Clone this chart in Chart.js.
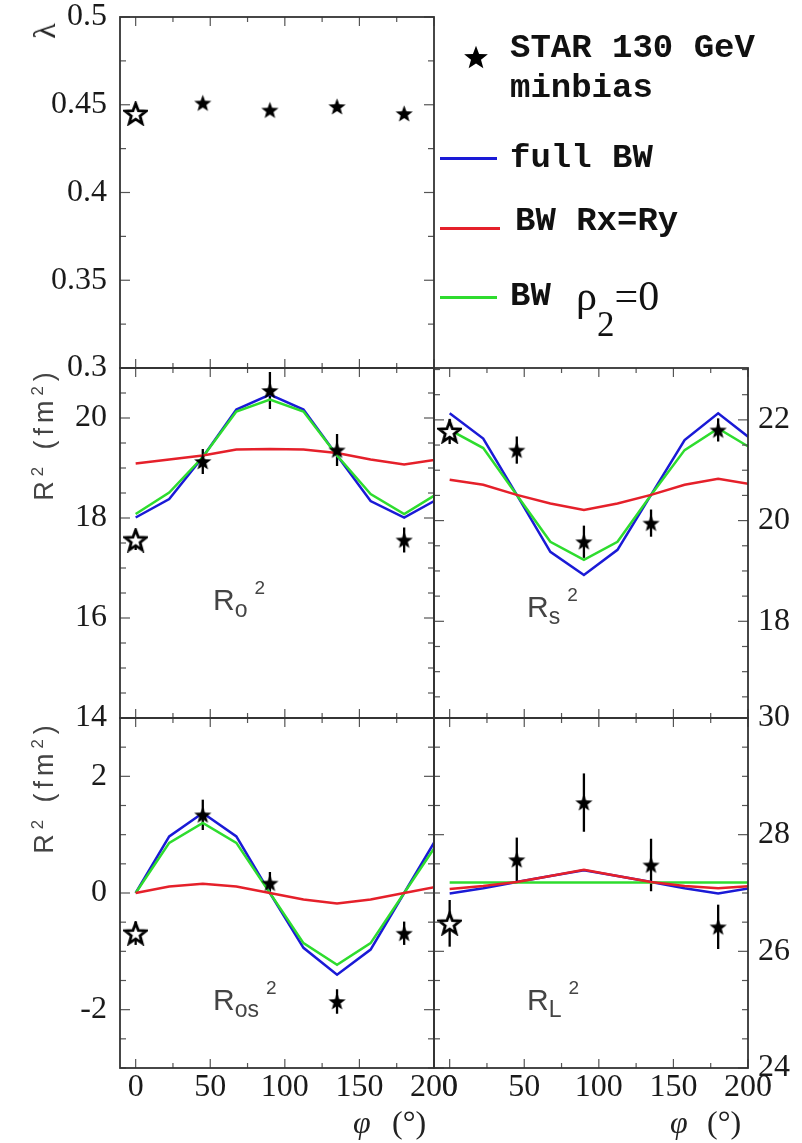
<!DOCTYPE html>
<html>
<head>
<meta charset="utf-8">
<script src="https://cdn.jsdelivr.net/npm/chart.js@4.4.1/dist/chart.umd.min.js"></script>
<style>
  html, body { margin: 0; padding: 0; background: #fff; }
  #page { position: relative; width: 802px; height: 1143px; overflow: hidden; background: #fff; }
  #page canvas.panel { position: absolute; left: 0; top: 0; }
  .lbl { position: absolute; white-space: nowrap; line-height: 1; color: #222; }
  .rot { transform: translate(-50%, -50%) rotate(-90deg); }
  .sans { font-family: "Liberation Sans", Arial, sans-serif; }
  .serif { font-family: "Liberation Serif", "Times New Roman", serif; }
  .mono { font-family: "Liberation Mono", "Courier New", monospace; font-weight: bold; font-size: 34px; color: #111; }
  .axt { font-size: 27px; letter-spacing: 5px; color: #444; }
  .axt sup { font-size: 62%; position: relative; top: -0.6em; vertical-align: 0; }
  .plab { font-family: "Liberation Sans", Arial, sans-serif; font-size: 30px; color: #444; }
  .plab .sb { font-size: 23px; position: relative; top: 7px; }
  .plab .sp { font-size: 19px; position: relative; top: -16px; margin-left: 7px; }
  .swatch { position: absolute; height: 3px; }
</style>
</head>
<body>
<div id="page">
  <canvas class="panel" id="panelLambda" width="802" height="1143"></canvas>
  <canvas class="panel" id="panelRo" width="802" height="1143"></canvas>
  <canvas class="panel" id="panelRs" width="802" height="1143"></canvas>
  <canvas class="panel" id="panelRos" width="802" height="1143"></canvas>
  <canvas class="panel" id="panelRl" width="802" height="1143"></canvas>

  <!-- axis titles -->
  <div class="lbl rot serif" style="left:44px;top:31px;font-size:32px;">λ</div>
  <div class="lbl rot sans axt" style="left:44px;top:434px;">R<sup>2</sup> (fm<sup>2</sup>)</div>
  <div class="lbl rot sans axt" style="left:44px;top:787px;">R<sup>2</sup> (fm<sup>2</sup>)</div>

  <div class="lbl serif" style="left:353px;top:1106px;font-size:32px;font-style:italic;">φ</div>
  <div class="lbl serif" style="left:392px;top:1106px;font-size:32px;">(°)</div>
  <div class="lbl serif" style="left:670px;top:1106px;font-size:32px;font-style:italic;">φ</div>
  <div class="lbl serif" style="left:707px;top:1106px;font-size:32px;">(°)</div>

  <!-- panel labels -->
  <div class="lbl plab" style="left:213px;top:585px;">R<span class="sb">o</span><span class="sp">2</span></div>
  <div class="lbl plab" style="left:527px;top:592px;">R<span class="sb">s</span><span class="sp">2</span></div>
  <div class="lbl plab" style="left:213px;top:985px;">R<span class="sb">os</span><span class="sp">2</span></div>
  <div class="lbl plab" style="left:527px;top:985px;">R<span class="sb">L</span><span class="sp">2</span></div>

  <!-- legend -->
  <canvas id="legendStar" width="30" height="26" style="position:absolute;left:461px;top:44px;"></canvas>
  <div class="lbl mono" style="left:510px;top:31px;">STAR 130 GeV</div>
  <div class="lbl mono" style="left:510px;top:71px;">minbias</div>
  <div class="swatch" style="left:440px;top:157px;width:57px;background:#1a1ad6;"></div>
  <div class="lbl mono" style="left:510px;top:141px;">full BW</div>
  <div class="swatch" style="left:440px;top:227px;width:60px;background:#e5202a;"></div>
  <div class="lbl mono" style="left:515px;top:204px;">BW Rx=Ry</div>
  <div class="swatch" style="left:440px;top:296px;width:57px;background:#2edc2e;"></div>
  <div class="lbl mono" style="left:510px;top:279px;">BW</div>
  <div class="lbl serif" style="left:576px;top:275px;font-size:42px;color:#111;">ρ<span style="position:relative;top:26px;font-size:35px;">2</span>=0</div>
</div>

<script>
// angle of the measured points and of the model curves (degrees)
const phiData = [0, 45, 90, 135, 180];
const phiModel = [0, 22.5, 45, 67.5, 90, 112.5, 135, 157.5, 180, 202.5];
const phiTicks = [0, 50, 100, 150, 200];

// lambda panel
const lambdaTicks = [0.3, 0.35, 0.4, 0.45, 0.5];
const lambdaStar = [0.445, 0.451, 0.447, 0.449, 0.445];

// Ro^2
const roTicks = [14, 16, 18, 20];
const roStar = [17.56, 19.13, 20.55, 19.36, 17.56];
const roErr = [0.2, 0.25, 0.37, 0.32, 0.25];
const roFull = [18.01, 18.38, 19.22, 20.17, 20.47, 20.17, 19.25, 18.34, 18.01, 18.38];
const roRxRy = [19.09, 19.17, 19.25, 19.37, 19.38, 19.37, 19.3, 19.17, 19.07, 19.17];
const roRho0 = [18.08, 18.51, 19.22, 20.13, 20.37, 20.13, 19.25, 18.48, 18.08, 18.49];

// Rs^2
const rsTicks = [18, 20, 22];
const rsStar = [21.77, 21.4, 19.58, 19.95, 21.8];
const rsErr = [0.25, 0.27, 0.32, 0.27, 0.23];
const rsFull = [22.13, 21.63, 20.51, 19.38, 18.92, 19.42, 20.51, 21.6, 22.13, 21.61];
const rsRxRy = [20.81, 20.71, 20.51, 20.34, 20.21, 20.34, 20.51, 20.71, 20.83, 20.72];
const rsRho0 = [21.8, 21.44, 20.51, 19.58, 19.22, 19.58, 20.51, 21.4, 21.83, 21.43];

// Ros^2
const rosTicks = [-2, 0, 2];
const rosStar = [-0.69, 1.34, 0.17, -1.86, -0.69];
const rosErr = [0.2, 0.26, 0.19, 0.21, 0.2];
const rosFull = [0, 0.97, 1.37, 0.97, 0, -0.94, -1.4, -0.97, 0, 0.97];
const rosRxRy = [0, 0.11, 0.16, 0.11, 0, -0.11, -0.18, -0.11, 0, 0.11];
const rosRho0 = [0, 0.86, 1.2, 0.86, 0, -0.86, -1.23, -0.86, 0, 0.86];

// RL^2
const rlTicks = [24, 26, 28, 30];
const rlStar = [26.48, 27.57, 28.55, 27.48, 26.42];
const rlErr = [0.4, 0.38, 0.5, 0.45, 0.38];
const rlFull = [26.99, 27.08, 27.19, 27.29, 27.39, 27.29, 27.19, 27.08, 26.99, 27.09];
const rlRxRy = [27.07, 27.12, 27.19, 27.29, 27.4, 27.29, 27.19, 27.12, 27.08, 27.12];
const rlRho0 = [27.18, 27.18, 27.18, 27.18, 27.18, 27.18, 27.18, 27.18, 27.18, 27.18];

const BLUE = "#1a1ad6", RED = "#e5202a", GREEN = "#2edc2e";
const TICK_FONT = { family: '"Liberation Serif", "Times New Roman", serif', size: 32 };

function starImage(size, hollow) {
    const c = document.createElement("canvas");
    c.width = size; c.height = size;
    const g = c.getContext("2d");
    const R = size / 2 - 1.5, r = R * 0.42;
    const cx = size / 2, cy = size / 2 + R * 0.09;
    g.beginPath();
    for (let i = 0; i < 10; i++) {
        const rad = i % 2 ? r : R;
        const a = -Math.PI / 2 + i * Math.PI / 5;
        g.lineTo(cx + rad * Math.cos(a), cy + rad * Math.sin(a));
    }
    g.closePath();
    if (hollow) {
        g.fillStyle = "#fff"; g.fill();
        g.lineWidth = 2.8; g.strokeStyle = "#000"; g.stroke();
    } else {
        g.fillStyle = "#000"; g.fill();
    }
    return c;
}

const fullStar = starImage(21, false);
const openStar = starImage(25, true);

// legend star
(function () {
    const g = document.getElementById("legendStar").getContext("2d");
    g.drawImage(starImage(28, false), 1, -1);
})();

function pairs(xs, ys) {
    return xs.map((x, i) => ({ x: x, y: ys[i] }));
}

const errorBars = {
    id: "errorBars",
    beforeDatasetsDraw(chart) {
        const ds = chart.data.datasets[0];
        if (!ds.errors) return;
        const xs = chart.scales.x, ys = chart.scales.y, ctx = chart.ctx;
        ctx.save();
        ctx.strokeStyle = "#000";
        ctx.lineWidth = 2.3;
        ds.data.forEach((p, i) => {
            const px = xs.getPixelForValue(p.x);
            ctx.beginPath();
            ctx.moveTo(px, ys.getPixelForValue(p.y - ds.errors[i]));
            ctx.lineTo(px, ys.getPixelForValue(p.y + ds.errors[i]));
            ctx.stroke();
        });
        ctx.restore();
    }
};

const framePlugin = {
    id: "frame",
    afterDraw(chart, args, opts) {
        const a = chart.chartArea, ctx = chart.ctx;
        const xs = chart.scales.x, ys = chart.scales.y;
        ctx.save();
        ctx.strokeStyle = "#555";
        ctx.lineWidth = 1.2;
        const seg = (x1, y1, x2, y2) => { ctx.beginPath(); ctx.moveTo(x1, y1); ctx.lineTo(x2, y2); ctx.stroke(); };
        for (let v = 0; v <= 200; v += 25) {
            const px = xs.getPixelForValue(v);
            const len = v % 50 === 0 ? 9 : 5;
            seg(px, a.bottom, px, a.bottom - len);
            seg(px, a.top, px, a.top + len);
        }
        const n = Math.round((ys.max - ys.min) / opts.minor) + 2;
        const start = Math.ceil(ys.min / opts.minor - 1e-6) * opts.minor;
        for (let k = 0; k < n; k++) {
            const v = start + k * opts.minor;
            if (v > ys.max + 1e-9) break;
            const py = ys.getPixelForValue(v);
            const isMajor = Math.abs(v / opts.major - Math.round(v / opts.major)) < 1e-6;
            const len = isMajor ? 10 : 6;
            seg(a.left, py, a.left + len, py);
            seg(a.right, py, a.right - len, py);
        }
        ctx.strokeStyle = "#333";
        ctx.lineWidth = 1.8;
        ctx.strokeRect(a.left, a.top, a.right - a.left, a.bottom - a.top);
        ctx.restore();
    }
};

function makePanel(id, cfg) {
    const datasets = [{
        data: pairs(phiData, cfg.star),
        errors: cfg.err,
        pointStyle: phiData.map((p, i) => i === 0 ? openStar : fullStar),
        pointRadius: 10,
        showLine: false,
        order: 0
    }];
    if (cfg.full) {
        datasets.push(
            { data: pairs(phiModel, cfg.rxry), borderColor: RED, borderWidth: 2.5, showLine: true, pointRadius: 0, clip: 0, order: 1 },
            { data: pairs(phiModel, cfg.rho0), borderColor: GREEN, borderWidth: 2.5, showLine: true, pointRadius: 0, clip: 0, order: 2 },
            { data: pairs(phiModel, cfg.full), borderColor: BLUE, borderWidth: 2.5, showLine: true, pointRadius: 0, clip: 0, order: 3 }
        );
    }
    const b = cfg.box;
    const yWidth = cfg.side === "left" ? 110 : 54;
    const xHeight = cfg.showX ? 1143 - b.bottom : 0;
    const padding = {
        top: b.top,
        left: cfg.side === "left" ? b.left - yWidth : b.left,
        right: cfg.side === "left" ? 802 - b.right : 802 - b.right - yWidth,
        bottom: cfg.showX ? 0 : 1143 - b.bottom
    };
    new Chart(document.getElementById(id), {
        type: "scatter",
        data: { datasets: datasets },
        options: {
            responsive: false,
            animation: false,
            layout: { padding: padding },
            plugins: { legend: { display: false }, tooltip: { enabled: false }, frame: { major: cfg.major, minor: cfg.minor } },
            scales: {
                x: {
                    type: "linear",
                    min: -10.5, max: 200,
                    display: cfg.showX,
                    grid: { display: false, drawTicks: false },
                    border: { display: false },
                    afterBuildTicks: s => { s.ticks = phiTicks.map(v => ({ value: v })); },
                    afterFit: s => { s.height = xHeight; s.paddingLeft = 0; s.paddingRight = 0; },
                    ticks: { font: TICK_FONT, color: "#1a1a1a", padding: 0, autoSkip: false, maxRotation: 0 }
                },
                y: {
                    type: "linear",
                    position: cfg.side,
                    min: cfg.yMin, max: cfg.yMax,
                    grid: { display: false, drawTicks: false },
                    border: { display: false },
                    afterBuildTicks: s => { s.ticks = cfg.ticks.map(v => ({ value: v })); },
                    afterFit: s => { s.width = yWidth; s.paddingTop = 0; s.paddingBottom = 0; },
                    ticks: {
                        font: TICK_FONT, color: "#1a1a1a", padding: cfg.side === "left" ? 13 : 10, autoSkip: false,
                        callback: v => String(Number(v.toFixed(3)))
                    }
                }
            }
        },
        plugins: [errorBars, framePlugin]
    });
}

makePanel("panelLambda", {
    box: { left: 120, right: 434, top: 17, bottom: 368 },
    yMin: 0.3, yMax: 0.5, ticks: lambdaTicks, major: 0.05, minor: 0.025,
    side: "left", showX: false, star: lambdaStar
});
makePanel("panelRo", {
    box: { left: 120, right: 434, top: 368, bottom: 718 },
    yMin: 14, yMax: 21, ticks: roTicks, major: 2, minor: 0.5,
    side: "left", showX: false, star: roStar, err: roErr, full: roFull, rxry: roRxRy, rho0: roRho0
});
makePanel("panelRs", {
    box: { left: 434, right: 748, top: 368, bottom: 718 },
    yMin: 16.08, yMax: 23.03, ticks: rsTicks, major: 2, minor: 0.5,
    side: "right", showX: false, star: rsStar, err: rsErr, full: rsFull, rxry: rsRxRy, rho0: rsRho0
});
makePanel("panelRos", {
    box: { left: 120, right: 434, top: 718, bottom: 1068 },
    yMin: -3, yMax: 3, ticks: rosTicks, major: 2, minor: 0.5,
    side: "left", showX: true, star: rosStar, err: rosErr, full: rosFull, rxry: rosRxRy, rho0: rosRho0
});
makePanel("panelRl", {
    box: { left: 434, right: 748, top: 718, bottom: 1068 },
    yMin: 24, yMax: 30, ticks: rlTicks, major: 2, minor: 0.5,
    side: "right", showX: true, star: rlStar, err: rlErr, full: rlFull, rxry: rlRxRy, rho0: rlRho0
});
</script>
</body>
</html>
